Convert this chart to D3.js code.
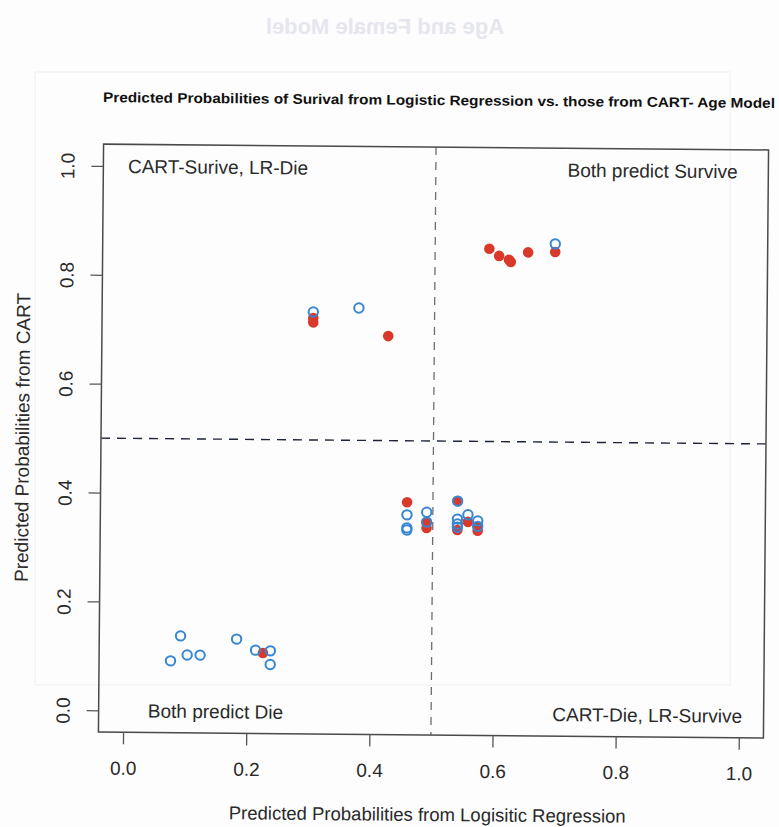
<!DOCTYPE html>
<html>
<head>
<meta charset="utf-8">
<script src="https://cdn.jsdelivr.net/npm/d3@7"></script>
<style>
  body { margin: 0; background: #fff; }
  svg { display: block; }
</style>
</head>
<body>
<svg id="chart"></svg>
<script>
// ---- data ----
const xTicks = [0, 0.2, 0.4, 0.6, 0.8, 1.0];
const yTicks = [0, 0.2, 0.4, 0.6, 0.8, 1.0];

// open blue circles: (LR prob, CART prob)
const openLR = [0.303, 0.377, 0.695,
  0.458, 0.458, 0.458, 0.490, 0.490,
  0.540, 0.540, 0.540, 0.540, 0.557, 0.573, 0.573,
  0.092, 0.076, 0.103, 0.124, 0.183, 0.214, 0.238, 0.238];
const openCART = [0.735, 0.743, 0.864,
  0.364, 0.340, 0.336, 0.369, 0.351,
  0.390, 0.357, 0.348, 0.342, 0.365, 0.354, 0.344,
  0.138, 0.092, 0.103, 0.103, 0.133, 0.113, 0.112, 0.087];

// filled red points: (LR prob, CART prob)
const filledLR = [0.303, 0.303, 0.425,
  0.588, 0.604, 0.620, 0.623, 0.651, 0.695,
  0.458, 0.490, 0.490, 0.540, 0.540, 0.557, 0.573, 0.573,
  0.226];
const filledCART = [0.724, 0.716, 0.692,
  0.854, 0.841, 0.834, 0.830, 0.848, 0.849,
  0.387, 0.350, 0.340, 0.390, 0.337, 0.352, 0.343, 0.336,
  0.108];

const chartTitle = "Predicted Probabilities of Surival from Logistic Regression vs. those from CART- Age Model";
const xLabel = "Predicted Probabilities from Logisitic Regression";
const yLabel = "Predicted Probabilities from CART";
const quadrantLabels = ["CART-Surive, LR-Die", "Both predict Survive", "Both predict Die", "CART-Die, LR-Survive"];

// ---- layout ----
const W = 779, H = 827;
const box = { left: 101, right: 766, top: 147, bottom: 735 };
const FONT = "'Liberation Sans', Arial, Helvetica, sans-serif";
const TXT = "#2a2a2a";

const svg = d3.select("#chart").attr("width", W).attr("height", H);
svg.append("rect").attr("width", W).attr("height", H).attr("fill", "#fdfdfd");

// faint show-through from the back of the scanned page
const ghost = svg.append("g");
ghost.append("text")
  .attr("transform", "translate(385,34) scale(-1,1)")
  .attr("text-anchor", "middle")
  .style("font-family", FONT).style("font-size", "22px").style("font-weight", "bold")
  .style("fill", "#e6e6ee")
  .text("Age and Female Model");
ghost.append("rect")
  .attr("x", 35).attr("y", 72).attr("width", 695).attr("height", 613)
  .attr("fill", "none").attr("stroke", "#f4f4f8").attr("stroke-width", 1.5);

// the scan is tilted by about half a degree
const root = svg.append("g").attr("transform", "rotate(0.5, 432, 440)");

// R's default 4% axis extension
const pad = 0.04;
const x = d3.scaleLinear().domain([-pad, 1 + pad]).range([box.left, box.right]);
const y = d3.scaleLinear().domain([-pad, 1 + pad]).range([box.bottom, box.top]);

// reference lines at 0.5
root.append("line")
  .attr("x1", x(0.5)).attr("x2", x(0.5))
  .attr("y1", box.top).attr("y2", box.bottom)
  .attr("stroke", "#6e6e6e").attr("stroke-width", 1.3)
  .attr("stroke-dasharray", "8,7");
root.append("line")
  .attr("x1", box.left).attr("x2", box.right)
  .attr("y1", y(0.5)).attr("y2", y(0.5))
  .attr("stroke", "#1d2338").attr("stroke-width", 1.4)
  .attr("stroke-dasharray", "9,7");

// points: red filled first, open blue on top
const filled = filledLR.map((v, i) => ({ lr: v, cart: filledCART[i] }));
const open = openLR.map((v, i) => ({ lr: v, cart: openCART[i] }));

root.append("g").attr("class", "filled")
  .selectAll("circle")
  .data(filled)
  .enter()
  .append("circle")
  .attr("cx", (d) => x(d.lr))
  .attr("cy", (d) => y(d.cart))
  .attr("r", 5.3)
  .attr("fill", "#d8392b");

root.append("g").attr("class", "open")
  .selectAll("circle")
  .data(open)
  .enter()
  .append("circle")
  .attr("cx", (d) => x(d.lr))
  .attr("cy", (d) => y(d.cart))
  .attr("r", 4.7)
  .attr("fill", "none")
  .attr("stroke", "#3686d4")
  .attr("stroke-width", 2);

// plot box
root.append("rect")
  .attr("x", box.left).attr("y", box.top)
  .attr("width", box.right - box.left).attr("height", box.bottom - box.top)
  .attr("fill", "none").attr("stroke", "#4a4a4a").attr("stroke-width", 1.5);

// axes
const fmt = d3.format(".1f");
const gx = root.append("g")
  .attr("transform", `translate(0,${box.bottom})`)
  .call(d3.axisBottom(x).tickValues(xTicks).tickFormat(fmt).tickSize(12).tickPadding(17));
const gy = root.append("g")
  .attr("transform", `translate(${box.left},0)`)
  .call(d3.axisLeft(y).tickValues(yTicks).tickFormat(fmt).tickSize(12));

[gx, gy].forEach((g) => {
  g.select(".domain").remove();
  g.selectAll(".tick line").attr("stroke", "#555").attr("stroke-width", 1.3);
  g.selectAll(".tick text")
    .style("font-family", FONT).style("font-size", "19px").attr("fill", TXT);
});
// R draws y tick labels parallel to the axis
gy.selectAll(".tick text")
  .attr("x", null).attr("dy", null)
  .attr("text-anchor", "middle")
  .attr("transform", "translate(-29,0) rotate(-90)");

// quadrant notes, placed like R text() at data coords
const notes = [
  { t: quadrantLabels[0], lr: 0.0, cart: 1.0, anchor: "start" },
  { t: quadrantLabels[1], lr: 0.99, cart: 1.0, anchor: "end" },
  { t: quadrantLabels[2], lr: 0.04, cart: 0.0, anchor: "start" },
  { t: quadrantLabels[3], lr: 1.005, cart: 0.0, anchor: "end" },
];
root.append("g")
  .selectAll("text")
  .data(notes)
  .enter()
  .append("text")
  .attr("x", (d) => x(d.lr))
  .attr("y", (d) => y(d.cart))
  .attr("dy", "0.36em")
  .attr("text-anchor", (d) => d.anchor)
  .style("font-family", FONT).style("font-size", "19px")
  .attr("fill", TXT)
  .text((d) => d.t);

// titles
root.append("text")
  .attr("x", 436).attr("y", 105)
  .attr("text-anchor", "middle")
  .attr("textLength", 672).attr("lengthAdjust", "spacingAndGlyphs")
  .style("font-family", FONT).style("font-size", "14px").style("font-weight", "bold")
  .attr("fill", "#111")
  .text(chartTitle);

root.append("text")
  .attr("x", (box.left + box.right) / 2 - 3).attr("y", 821)
  .attr("text-anchor", "middle")
  .style("font-family", FONT).style("font-size", "18.5px")
  .attr("fill", TXT)
  .text(xLabel);

root.append("text")
  .attr("transform", `translate(29,${(box.top + box.bottom) / 2}) rotate(-90)`)
  .attr("text-anchor", "middle")
  .style("font-family", FONT).style("font-size", "19px")
  .attr("fill", TXT)
  .text(yLabel);
</script>
</body>
</html>
